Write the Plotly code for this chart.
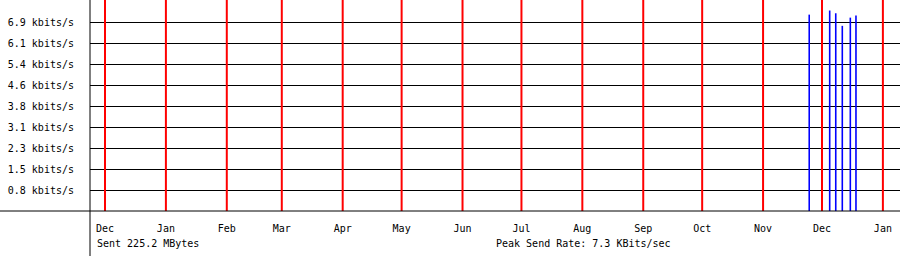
import plotly.graph_objects as go
import pandas as pd

# ---- data ----
month_dates = ["2010-12-01", "2011-01-01", "2011-02-01", "2011-03-01", "2011-04-01",
               "2011-05-01", "2011-06-01", "2011-07-01", "2011-08-01", "2011-09-01",
               "2011-10-01", "2011-11-01", "2011-12-01", "2012-01-01"]
month_labels = ["Dec", "Jan", "Feb", "Mar", "Apr", "May", "Jun", "Jul", "Aug",
                "Sep", "Oct", "Nov", "Dec", "Jan"]

rate_dates = ["2011-11-24 12:00", "2011-12-04 22:00", "2011-12-08 00:00",
              "2011-12-11 08:00", "2011-12-15 10:00", "2011-12-18 07:00"]
rate_values = [7.17, 7.32, 7.22, 6.76, 7.06, 7.14]  # kbits/s

y_tick_values = [0.7667 * k for k in range(1, 10)]
y_tick_labels = ["0.8 kbits/s", "1.5 kbits/s", "2.3 kbits/s", "3.1 kbits/s",
                 "3.8 kbits/s", "4.6 kbits/s", "5.4 kbits/s", "6.1 kbits/s",
                 "6.9 kbits/s"]

sent_text = "Sent 225.2 MBytes"
peak_text = "Peak Send Rate: 7.3 KBits/sec"

Y_MAX = 7.704
X_START = "2010-11-23 08:44"
X_END = "2012-01-09 17:00"

FONT = "DejaVu Sans Mono"

fig = go.Figure()

# red month lines
rx, ry = [], []
for d in month_dates:
    rx += [d, d, None]
    ry += [0, Y_MAX, None]
fig.add_trace(go.Scatter(x=rx, y=ry, mode="lines",
                         line=dict(color="#ff0000", width=2),
                         hoverinfo="skip", showlegend=False))

# blue rate spikes
bx, by = [], []
for d, v in zip(rate_dates, rate_values):
    bx += [d, d, None]
    by += [0, v, None]
fig.add_trace(go.Scatter(x=bx, y=by, mode="lines",
                         line=dict(color="#0000ff", width=1.6),
                         hoverinfo="skip", showlegend=False))

fig.update_layout(
    width=900, height=256,
    margin=dict(l=90, r=0, t=0, b=45),
    paper_bgcolor="white", plot_bgcolor="white",
    font=dict(family=FONT, size=10, color="black"),
    showlegend=False,
    xaxis=dict(
        type="date",
        range=[X_START, X_END],
        tickvals=month_dates, ticktext=month_labels,
        showgrid=False, zeroline=False, showline=False,
        ticks="outside", ticklen=8, tickcolor="rgba(0,0,0,0)",
        tickfont=dict(family=FONT, size=10, color="black"),
    ),
    yaxis=dict(
        range=[0, Y_MAX],
        tickvals=y_tick_values, ticktext=y_tick_labels,
        showgrid=True, gridcolor="black", gridwidth=1,
        zeroline=False, showline=False,
        ticks="outside", ticklen=13, tickcolor="rgba(0,0,0,0)",
        tickfont=dict(family=FONT, size=10, color="black"),
    ),
    shapes=[
        dict(type="line", xref="paper", yref="paper",
             x0=-90 / 810, x1=1, y0=0, y1=0,
             line=dict(color="black", width=1), layer="above"),
        dict(type="line", xref="paper", yref="paper",
             x0=0, x1=0, y0=-45 / 211, y1=1,
             line=dict(color="black", width=1), layer="above"),
    ],
    annotations=[
        dict(text=sent_text, xref="paper", yref="paper",
             x=5 / 810, y=-32 / 211, xanchor="left", yanchor="middle",
             showarrow=False, font=dict(family=FONT, size=10, color="black")),
        dict(text=peak_text, xref="paper", yref="paper",
             x=404 / 810, y=-32 / 211, xanchor="left", yanchor="middle",
             showarrow=False, font=dict(family=FONT, size=10, color="black")),
    ],
)

fig.write_html("out.html")
